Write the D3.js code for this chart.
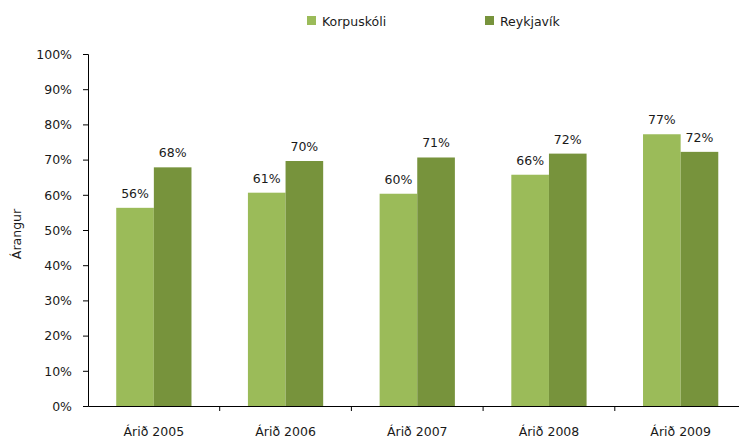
<!DOCTYPE html>
<html>
<head>
<meta charset="utf-8">
<script src="https://cdn.jsdelivr.net/npm/d3@7"></script>
<style>
  body { margin: 0; background: #fff; }
  text { font-family: "DejaVu Sans", sans-serif; font-size: 12.5px; fill: #1a1a1a; }
</style>
</head>
<body>
<svg id="chart" width="739" height="441"></svg>
<script>
// data
const years = ['Árið 2005', 'Árið 2006', 'Árið 2007', 'Árið 2008', 'Árið 2009'];
const seriesNames = ['Korpuskóli', 'Reykjavík'];
const korpuskoli = [56.3, 60.6, 60.3, 65.7, 77.2];
const reykjavik = [67.8, 69.6, 70.6, 71.7, 72.2];
const yTicks = [0, 10, 20, 30, 40, 50, 60, 70, 80, 90, 100];
const colors = ['#9bbb59', '#77933c'];

let svg = d3.select('#chart');
let plotLeft = 88;
let plotBottom = 406;
let plotTop = 54;
let catWidth = 131.7;

let xScale = d3.scaleBand()
    .domain(years)
    .range([plotLeft, plotLeft + catWidth * years.length])
    .paddingInner(0)
    .paddingOuter(0);
// gap width 150% -> outer padding of 0.75 bar on each side
let inner = d3.scaleBand()
    .domain(seriesNames)
    .range([0, xScale.bandwidth()])
    .paddingInner(0)
    .paddingOuter(0.75);
let yScale = d3.scaleLinear()
    .domain([0, 100])
    .range([plotBottom, plotTop]);

// bars
let rows = years.map((y, i) => ({ year: y, values: [korpuskoli[i], reykjavik[i]] }));
let groups = svg.selectAll('.cat')
    .data(rows)
    .enter()
    .append('g')
    .classed('cat', true)
    .attr('transform', d => `translate(${xScale(d.year)},0)`);

groups.selectAll('rect')
    .data(d => d.values.map((v, j) => ({ name: seriesNames[j], value: v, j: j })))
    .enter()
    .append('rect')
    .attr('x', d => inner(d.name))
    .attr('y', d => yScale(d.value))
    .attr('width', inner.bandwidth())
    .attr('height', d => plotBottom - yScale(d.value))
    .style('fill', d => colors[d.j]);

groups.selectAll('.lbl')
    .data(d => d.values.map((v, j) => ({ name: seriesNames[j], value: v })))
    .enter()
    .append('text')
    .classed('lbl', true)
    .attr('x', d => inner(d.name) + inner.bandwidth() / 2)
    .attr('y', d => yScale(d.value) - 10)
    .attr('text-anchor', 'middle')
    .text(d => Math.round(d.value) + '%');

// y axis
let yAxis = d3.axisLeft(yScale)
    .tickValues(yTicks)
    .tickSize(5)
    .tickPadding(11)
    .tickFormat(d => d + '%');
let yAxisGroup = svg.append('g')
    .attr('transform', `translate(${plotLeft},0)`)
    .call(yAxis);
yAxisGroup.selectAll('text').attr('dy', '0.35em').style('font-size', '12.5px');

// x axis
let xAxis = d3.axisBottom(xScale).tickSize(0).tickPadding(21);
let xAxisGroup = svg.append('g')
    .attr('transform', `translate(0,${plotBottom})`)
    .call(xAxis);
xAxisGroup.selectAll('text').style('font-size', '12.5px');
// category boundary ticks
xAxisGroup.selectAll('.bound')
    .data(years.slice(1))
    .enter()
    .append('line')
    .classed('bound', true)
    .attr('x1', d => xScale(d))
    .attr('x2', d => xScale(d))
    .attr('y1', 0)
    .attr('y2', 5)
    .attr('stroke', '#000');

svg.selectAll('.domain').attr('stroke', '#000');
svg.selectAll('.tick line').attr('stroke', '#000');

// axis title
svg.append('text')
    .attr('transform', `translate(21,234) rotate(-90)`)
    .attr('text-anchor', 'middle')
    .text('Árangur');

// legend
let legendX = [307, 485];
let legend = svg.selectAll('.legend')
    .data(seriesNames)
    .enter()
    .append('g')
    .classed('legend', true)
    .attr('transform', (d, i) => `translate(${legendX[i]},16)`);
legend.append('rect')
    .attr('width', 9)
    .attr('height', 9)
    .style('fill', (d, i) => colors[i]);
legend.append('text')
    .attr('x', 15)
    .attr('y', 9.5)
    .text(d => d);
</script>
</body>
</html>
